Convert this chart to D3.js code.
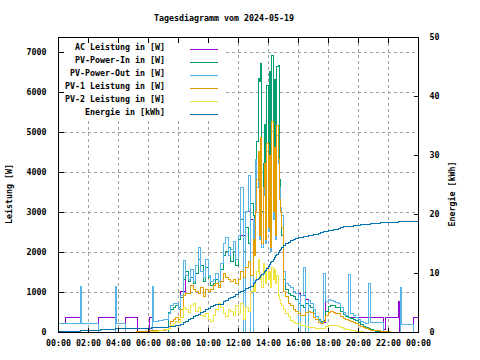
<!DOCTYPE html>
<html><head><meta charset="utf-8">
<script src="https://cdn.jsdelivr.net/npm/d3@7"></script>
<style>
body{margin:0;background:#fff}
svg{display:block}
text{font-family:"DejaVu Sans Mono",monospace;font-size:8.3px;fill:#000;font-weight:bold}
</style></head><body>
<svg id="c" width="480" height="360"></svg>
<script>
const title = "Tagesdiagramm vom 2024-05-19";
const yLabel = "Leistung [W]";
const y2Label = "Energie [kWh]";
const seriesNames = ["AC Leistung in [W]","PV-Power-In in [W]","PV-Power-Out in [W]","PV-1 Leistung in [W]","PV-2 Leistung in [W]","Energie in [kWh]"];
const seriesColors = ["#9400d3","#009e73","#56b4e9","#e69f00","#f0e442","#0072b2"];
const xTickHours = [0,2,4,6,8,10,12,14,16,18,20,22,24];
const xTickLabels = ["00:00","02:00","04:00","06:00","08:00","10:00","12:00","14:00","16:00","18:00","20:00","22:00","00:00"];
const powerTicks = [0,1000,2000,3000,4000,5000,6000,7000];
const energyTicks = [0,10,20,30,40,50];

// sample times during the day: 10 min, 5 min around noon, 10 min again
const dayTimes = [
"07:00","07:10","07:20","07:30","07:40","07:50","08:00","08:10","08:20","08:30",
"08:40","08:50","09:00","09:10","09:20","09:30","09:40","09:50","10:00","10:10",
"10:20","10:30","10:40","10:50","11:00","11:10","11:20","11:30","11:40","11:50",
"12:00","12:10","12:20","12:30","12:40","12:50",
"13:00","13:05","13:10","13:15","13:20","13:25","13:30","13:35","13:40","13:45",
"13:50","13:55","14:00","14:05","14:10","14:15","14:20","14:25","14:30","14:35",
"14:40","14:45","14:50","14:55","15:00",
"15:10","15:20","15:30","15:40","15:50","16:00","16:10","16:20","16:30","16:40",
"16:50","17:00","17:10","17:20","17:30","17:40","17:50","18:00","18:10","18:20",
"18:30","18:40","18:50","19:00","19:10","19:20","19:30","19:40","19:50","20:00",
"20:10","20:20","20:30","20:40","20:50","21:00"];

// AC Leistung [W]
const acEarly = [["00:00",200],["00:28",365],["01:28",200],["02:41",365],["03:48",200],["04:30",365],["05:19",0],["06:04",365],["06:16",270],["06:40",280]];
const acDay = [
300,320,450,650,720,700,560,1000,1000,1400,1300,1550,1250,1650,2100,1500,1350,1800,1400,1250,
1300,1450,1250,1700,2200,2350,1900,2050,2250,1800,2400,2400,2400,3000,3000,2800,
2800,2000,4300,3600,4200,2300,4600,2100,3400,4000,2200,4500,2500,4200,2000,5000,2800,4400,2300,4900,4200,3600,3100,2900,1500,
1200,1150,1100,1000,950,950,900,900,800,780,720,550,380,280,240,240,760,800,790,770,740,
700,600,480,420,365,365,365,365,365,365,365,365,365,365,365];
const acLate = [["21:10",365],["21:40",50],["21:51",365],["22:41",750],["22:47",0],["23:41",365],["24:00",365]];

// PV-Power-In [W]
const pvInEarly = [["00:00",0]];
const pvInDay = [
0,0,480,560,600,650,620,850,1300,1500,1250,1350,1200,1450,1800,1650,1250,1600,1350,1150,
1200,1300,1150,1550,1900,2000,2100,1750,2000,1650,2300,2800,2000,2600,2200,3200,
2900,2200,3300,4770,6340,6250,6700,3000,4200,5190,2600,6170,3500,6500,2800,6900,3300,6300,2900,6630,6670,3800,3000,2400,1300,
1050,950,900,880,800,700,650,600,720,650,600,450,380,300,260,280,500,640,660,650,620,
600,500,430,380,350,330,310,280,230,180,140,110,80,50,30];
const pvInLate = [["21:10",15],["21:20",5],["21:30",0],["24:00",0]];

// PV-Power-Out [W]
const pvOutEarly = [["00:00",200],["01:28",1130],["01:33",200],["02:40",0],["03:48",1130],["03:53",200],["04:30",0],["06:16",1130],["06:21",270],["06:40",280]];
const pvOutDay = [
300,320,450,650,720,700,560,900,1790,1400,1300,1550,1250,1650,2100,1500,1350,1800,1400,1250,
1300,1450,1250,1700,2200,2350,1900,2050,2250,1800,2400,3600,0,3000,3900,0,
2800,2000,4300,3600,4200,2300,4600,2100,3400,4000,2200,4500,2500,4200,2000,5000,2800,4400,2300,4900,4200,3600,3100,2900,1500,
1200,1150,1100,1000,950,0,900,1600,0,780,720,550,380,280,240,1450,760,800,790,770,740,
700,600,480,420,1430,450,400,350,300,260,240,220,1200,240,230];
const pvOutLate = [["21:10",230],["21:40",0],["22:48",1120],["22:53",175],["23:41",0],["24:00",0]];

// PV-1 Leistung [W]
const pv1Early = [["00:00",0],["05:15",15],["06:00",25],["06:30",35]];
const pv1Day = [
40,60,90,250,300,350,300,550,900,950,960,1150,1050,1000,950,1100,880,1050,1000,1050,
1150,1200,1100,1250,1450,1350,1300,1250,1300,1200,1300,1500,1350,1600,1750,1400,
2300,1900,3000,3800,4500,2400,4850,2200,3600,4200,2300,4700,2600,4400,2100,5250,3000,4600,2400,5150,4300,3300,3000,2600,1000,
880,700,650,550,500,450,420,400,480,520,480,350,300,240,220,250,420,480,500,490,470,
450,380,330,300,280,260,240,210,170,130,100,80,60,45,35];
const pv1Late = [["21:10",25],["21:30",15],["21:50",8],["22:10",0],["24:00",0]];

// PV-2 Leistung [W]
const pv2Early = [["00:00",0],["06:10",10],["06:40",30]];
const pv2Day = [
50,70,90,150,200,250,240,350,600,550,480,650,720,500,600,420,380,450,300,250,
400,550,700,600,450,380,550,500,420,650,450,700,300,600,500,1000,
1200,1000,1300,1500,1800,1300,1400,1100,1700,1500,1200,1600,1300,1500,1100,1600,1300,1550,1200,1400,900,800,700,650,550,
450,380,280,240,220,200,170,150,130,120,110,100,90,80,80,90,140,160,170,160,150,
140,110,90,70,60,40,25,15,10,5,0,0,0,0,0];
const pv2Late = [["21:10",0],["24:00",0]];

// Energie [kWh]
const energyEarly = [["00:00",0.05],["01:28",0.3],["02:48",0.4],["03:48",0.55],["06:14",0.73],["06:50",0.78]];
const energyDay = [
0.8,0.8,0.85,0.9,0.95,1.05,1.1,1.2,1.6,1.85,2.1,2.35,2.6,2.8,3.05,3.3,3.55,3.75,4.0,4.25,
4.5,4.6,4.6,4.7,5.1,5.35,5.6,5.85,6.1,6.35,6.65,6.9,7.1,7.3,7.5,7.75,
8.2,8.4,8.65,8.9,9.1,9.3,9.55,9.8,10.0,10.2,10.45,10.75,11.1,11.4,11.7,12.0,12.3,12.6,12.9,13.2,13.5,13.8,14.05,14.35,14.6,
14.95,15.25,15.5,15.7,15.85,16.0,16.1,16.2,16.25,16.35,16.4,16.5,16.6,16.7,16.8,16.95,17.05,17.15,17.25,17.35,17.45,
17.6,17.7,17.8,17.85,17.9,17.95,18.0,18.05,18.1,18.15,18.2,18.25,18.3,18.35,18.4];
const energyLate = [["21:10",18.42],["21:30",18.5],["21:50",18.55],["22:10",18.6],["22:40",18.65],["23:00",18.7],["23:20",18.75],["23:50",18.8],["24:00",18.8]];

const toH = s => { const [h, m] = s.split(":").map(Number); return h + m / 60; };
function build(early, day, late) {
  return [
    ...early.map(([t, v]) => [toH(t), v]),
    ...dayTimes.map((t, i) => [toH(t), day[i]]),
    ...late.map(([t, v]) => [toH(t), v])
  ];
}
const series = [
  {data: build(acEarly, acDay, acLate), axis: "y"},
  {data: build(pvInEarly, pvInDay, pvInLate), axis: "y"},
  {data: build(pvOutEarly, pvOutDay, pvOutLate), axis: "y"},
  {data: build(pv1Early, pv1Day, pv1Late), axis: "y"},
  {data: build(pv2Early, pv2Day, pv2Late), axis: "y"},
  {data: build(energyEarly, energyDay, energyLate), axis: "y2"}
];

const L = 58, R = 418, T = 37, B = 332;
const svg = d3.select("#c");
const x = d3.scaleLinear().domain([0, 24]).range([L, R]);
const y = d3.scaleLinear().domain([0, 7370]).range([B, T]);
const y2 = d3.scaleLinear().domain([0, 50]).range([B, T]);

svg.append("defs").append("clipPath").attr("id", "clip")
  .append("rect").attr("x", L).attr("y", T).attr("width", R - L).attr("height", B - T);

// grid
const grid = svg.append("g").attr("stroke", "#a0a0a0").attr("stroke-dasharray", "3,3").attr("stroke-width", 1).attr("shape-rendering", "crispEdges");
xTickHours.filter(h => h > 0 && h < 24).forEach(h => {
  const px = Math.round(x(h)) + 0.5;
  grid.append("line").attr("x1", px).attr("x2", px).attr("y1", T).attr("y2", B);
});
powerTicks.filter(v => v > 0).forEach(v => {
  const py = Math.round(y(v)) + 0.5;
  grid.append("line").attr("x1", L).attr("x2", R).attr("y1", py).attr("y2", py);
});

// legend background (opaque key)
svg.append("rect").attr("x", L + 1).attr("y", T + 1).attr("width", 225 - L).attr("height", 120 - T).attr("fill", "#fff");

// data
const plot = svg.append("g").attr("clip-path", "url(#clip)");
series.forEach((s, i) => {
  const sc = s.axis === "y" ? y : y2;
  const line = d3.line().x(d => x(d[0])).y(d => sc(d[1])).curve(d3.curveStepAfter);
  plot.append("path").datum(s.data).attr("d", line)
    .attr("fill", "none").attr("stroke", seriesColors[i]).attr("stroke-width", 1)
    .attr("shape-rendering", "crispEdges");
});

// border
svg.append("rect").attr("x", L + 0.5).attr("y", T + 0.5).attr("width", R - L).attr("height", B - T)
  .attr("fill", "none").attr("stroke", "#000").attr("stroke-width", 1).attr("shape-rendering", "crispEdges");

// axes
function styleAxis(g) {
  g.select(".domain").remove();
  g.selectAll("line").attr("stroke", "#000").attr("shape-rendering", "crispEdges");
  g.attr("font-family", null).attr("font-size", null);
}
svg.append("g").attr("transform", `translate(${L + 0.5},0)`)
  .call(d3.axisLeft(y).tickValues(powerTicks).tickSize(-5).tickPadding(12).tickFormat(d => String(d)))
  .call(styleAxis);
svg.append("g").attr("transform", `translate(${R + 0.5},0)`)
  .call(d3.axisRight(y2).tickValues(energyTicks).tickSize(-5).tickPadding(11).tickFormat(d => String(d)))
  .call(styleAxis);
svg.append("g").attr("transform", `translate(0,${B + 0.5})`)
  .call(d3.axisBottom(x).tickValues(xTickHours).tickSize(-5).tickPadding(8).tickFormat((d, i) => xTickLabels[i]))
  .call(styleAxis);
svg.append("g").attr("transform", `translate(0,${T + 0.5})`)
  .call(d3.axisTop(x).tickValues(xTickHours).tickSize(-5).tickFormat(""))
  .call(styleAxis);

// title and axis labels
svg.append("text").attr("x", 224).attr("y", 21).attr("text-anchor", "middle").text(title);
svg.append("text").attr("transform", "translate(12,194) rotate(-90)").attr("text-anchor", "middle").text(yLabel);
svg.append("text").attr("transform", "translate(455,194) rotate(-90)").attr("text-anchor", "middle").text(y2Label);

// legend
seriesNames.forEach((name, i) => {
  const by = 50 + i * 13;
  svg.append("text").attr("x", 165).attr("y", by).attr("text-anchor", "end").text(name);
  svg.append("line").attr("x1", 190).attr("x2", 218).attr("y1", by - 0.5).attr("y2", by - 0.5)
    .attr("stroke", seriesColors[i]).attr("stroke-width", 1).attr("shape-rendering", "crispEdges");
});
</script></body></html>
